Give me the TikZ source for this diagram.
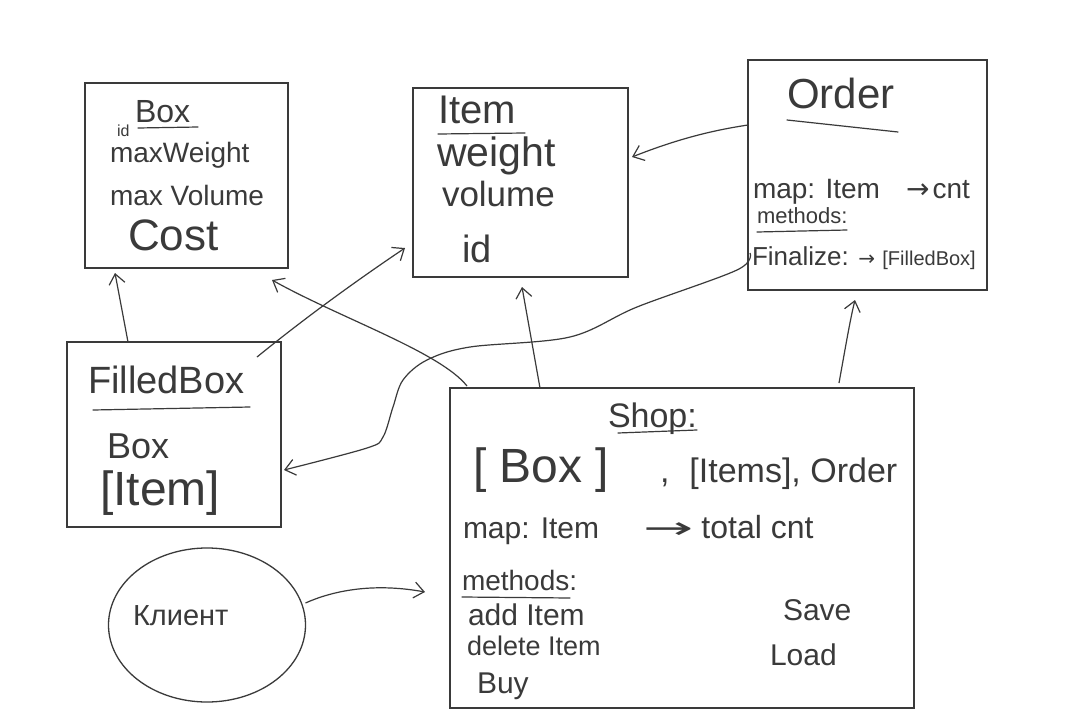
\documentclass[tikz,border=0pt]{standalone}
\usepackage{fontspec}
\usepackage{graphicx}
\setmainfont{Liberation Sans}
\newfontfamily\symf{DejaVu Sans}
\usetikzlibrary{arrows.meta,shapes.geometric,calc}
\definecolor{ink}{HTML}{3A3A3A}
\newcommand\myfs[1]{\fontsize{#1}{#1}\selectfont}
\begin{document}
\begin{tikzpicture}[x=1pt,y=-1pt,
  box/.style={draw=ink, line width=1.3pt, rectangle, inner sep=0pt, outer sep=0pt},
  txt/.style={anchor=base west, inner sep=0pt, outer sep=0pt, text=ink},
  conn/.style={draw=ink, line width=1.2pt, -{Straight Barb[length=10pt,width=16pt]}},
  uline/.style={draw=ink, line width=1.2pt, line cap=round}]
\useasboundingbox (0,0) rectangle (1080,720);
\fill[white] (0,0) rectangle (1080,720);

% ---------- boxes ----------
\node[box, minimum width=203pt, minimum height=185pt] (box) at (186.5,175.5) {};
\node[box, minimum width=215pt, minimum height=189pt] (item) at (520.5,182.5) {};
\node[box, minimum width=239pt, minimum height=230pt] (order) at (867.5,175) {};
\node[box, minimum width=214pt, minimum height=185pt] (filled) at (174,434.5) {};
\node[box, minimum width=464pt, minimum height=320pt] (shop) at (682,548) {};
\node[draw=ink, line width=1.3pt, ellipse, inner sep=0pt, outer sep=0pt,
      minimum width=197pt, minimum height=154pt] (client) at (207,625) {};

% ---------- Box ----------
\node[txt] (boxT) at (135,122) {\myfs{32}Box};
\draw[uline] (138,128) -- (198,127);
\node[txt] (boxId) at (117,136) {\myfs{16}id};
\node[txt] (boxW) at (110,162) {\myfs{28}maxWeight};
\node[txt] (boxV) at (110,205) {\myfs{28}max Volume};
\node[txt] (boxC) at (128,250) {\myfs{44}Cost};

% ---------- Item ----------
\node[txt] (itemT) at (438,123) {\myfs{40}Item};
\draw[uline] (438,134) -- (525,133);
\node[txt] (itemW) at (437,166) {\myfs{41}weight};
\node[txt] (itemV) at (442,206) {\myfs{35}volume};
\node[txt] (itemI) at (462,262) {\myfs{38}id};

% ---------- Order ----------
\node[txt] (orderT) at (787,108) {\myfs{42}Order};
\draw[uline] (787,120) -- (898,132);
\node[txt] (orderM) at (753,198) {\myfs{28}map: Item\hspace{26pt}{\symf →}\hspace{3pt}cnt};
\node[txt] (orderMe) at (757,223) {\myfs{22}methods:};
\draw[uline] (757,232) -- (847,230);
\node[txt] (orderF) at (752,265) {\myfs{26}Finalize: {\symf\myfs{20}→} {\myfs{20}[FilledBox]}};

% ---------- FilledBox ----------
\node[txt] (fbT) at (88,393) {\myfs{38}FilledBox};
\draw[uline] (93,410) -- (250,407);
\node[txt] (fbB) at (107,458) {\myfs{36}Box};
\node[txt] (fbI) at (100,505) {\myfs{48}[Item]};

% ---------- Shop ----------
\node[txt] (shopT) at (608,427) {\myfs{34}Shop:};
\draw[uline] (618,433) -- (697,430);
\node[txt] (shopB) at (473,482) {\myfs{48}[ Box ]};
\node[txt] (shopI) at (660,482) {\myfs{34},\hspace{20pt}[Items], Order};
\node[txt] (shopM) at (463,538) {\myfs{30}map: Item\hspace{44pt}{\symf\scalebox{2}[1]{→}}\hspace{8pt}{\myfs{32}total cnt}};
\node[txt] (shopMe) at (462,590) {\myfs{28}methods:};
\draw[uline] (462,597) -- (570,598);
\node[txt] (shopA) at (468,625) {\myfs{30}add Item};
\node[txt] (shopD) at (467,655) {\myfs{27}delete Item};
\node[txt] (shopBuy) at (477,693) {\myfs{30}Buy};
\node[txt] (shopS) at (783,620) {\myfs{30}Save};
\node[txt] (shopL) at (770,665) {\myfs{30}Load};

% ---------- Client ----------
\node[txt] (clientT) at (133,625) {\myfs{29}Клиент};

% ---------- connectors ----------
\draw[conn] ($(filled.north west)+(61,0)$) -- ($(box.south west)+(30,5)$);
\draw[conn] ($(filled.north east)+(-24,15)$) .. controls (300,322) and (350,285) .. ($(item.south west)+(-8,-29)$);
\draw[conn] ($(shop.north west)+(17,-2)$) .. controls (440,352) and (340,318) .. ($(box.south east)+(-16,12)$);
\draw[conn] ($(shop.north west)+(90,0)$) -- ($(item.south west)+(109,10)$);
\draw[conn] ($(order.north west)+(0,65)$) .. controls (715,130) and (680,138) .. ($(item.north east)+(4,69)$);
\coordinate (o6s) at ($(order.north west)+(2,193)$);
\coordinate (o6e) at ($(filled.north east)+(3,128)$);
\draw[conn] plot[smooth, tension=0.55] coordinates {(o6s) (737,270) (637,307) (570,337) (470,347) (427,360) (403,380) (393,407) (383,437) (367,448) (o6e)};
\draw[conn] ($(shop.north west)+(389,-5)$) .. controls (845,350) and (850,320) .. ($(order.south west)+(107,10)$);
\draw[conn] ($(client.east)+(0,-22)$) .. controls (330,592) and (370,582) .. ($(shop.north west)+(-25,204)$);
\end{tikzpicture}
\end{document}
